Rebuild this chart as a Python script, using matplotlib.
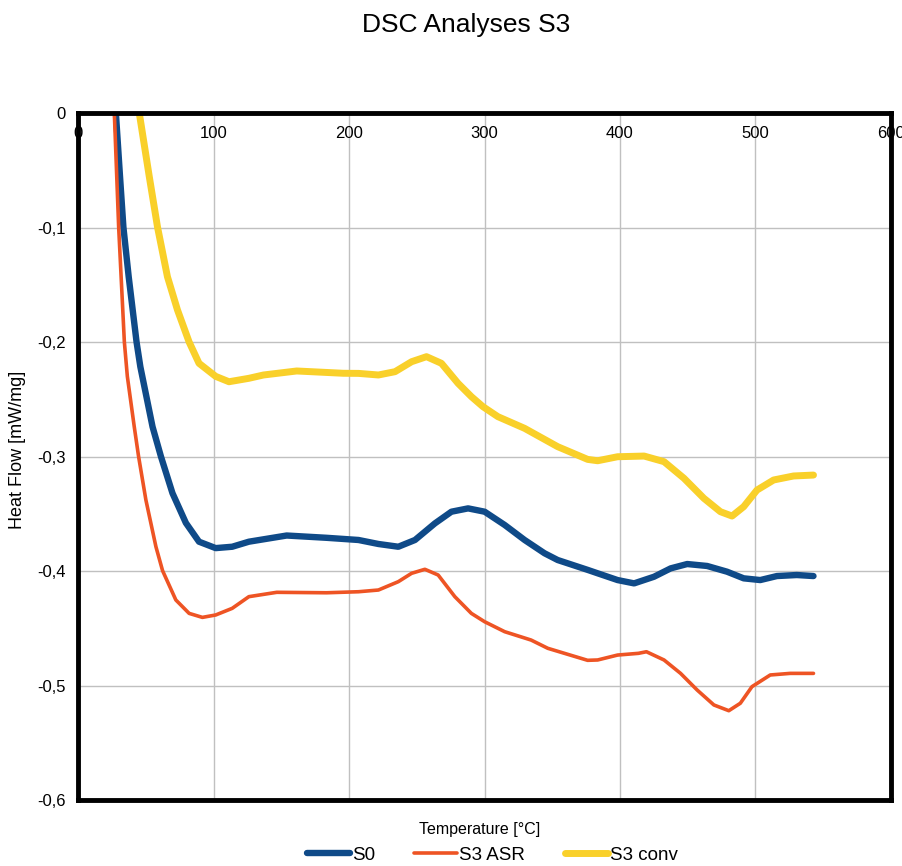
import numpy as np
import matplotlib.pyplot as plt
from matplotlib.ticker import FuncFormatter

plt.rcParams['font.family'] = ['Liberation Sans', 'DejaVu Sans']

# S0
s0_t = [28.1, 31.0, 33.5, 37.4, 43.2, 46.0, 55.0, 61.2, 69.7, 79.6, 89.3, 101.6, 113.8,
        126.1, 154.0, 183.5, 207.0, 221.7, 236.4, 248.7, 263.4, 275.6, 287.9, 300.1,
        314.9, 329.6, 344.3, 354.0, 376.1, 383.5, 398.2, 410.4, 425.1, 437.4, 449.6,
        464.3, 479.0, 491.3, 503.5, 515.8, 530.5, 542.8]
s0_hf = [-0.003, -0.0556, -0.0998, -0.143, -0.200, -0.2216, -0.274, -0.300, -0.332,
         -0.358, -0.3744, -0.380, -0.3788, -0.3744, -0.369, -0.371, -0.3729, -0.3764,
         -0.3788, -0.3729, -0.3584, -0.3482, -0.3453, -0.3482, -0.3598, -0.3729, -0.3845,
         -0.3904, -0.399, -0.402, -0.4079, -0.4108, -0.405, -0.3977, -0.3939, -0.3956,
         -0.4006, -0.4064, -0.4079, -0.4044, -0.4035, -0.4044]

# S3 ASR
asr_t = [26.8, 30.0, 34.2, 36.4, 41.5, 44.7, 50.1, 57.5, 62.4, 72.2, 82.0, 91.8, 101.6,
         113.8, 126.1, 146.7, 183.5, 207.0, 221.7, 236.4, 246.2, 256.0, 265.8, 278.1,
         290.3, 300.1, 314.9, 334.4, 346.7, 376.1, 383.5, 398.2, 413.6, 419.5, 432.5,
         444.7, 457.0, 469.3, 480.3, 488.8, 497.4, 510.9, 525.6, 542.8]
asr_hf = [0.0, -0.0998, -0.200, -0.230, -0.274, -0.300, -0.338, -0.3788, -0.3997,
          -0.4253, -0.437, -0.4405, -0.4384, -0.4326, -0.4224, -0.4186, -0.419, -0.4181,
          -0.4166, -0.4093, -0.402, -0.3985, -0.4035, -0.4224, -0.437, -0.4443, -0.453,
          -0.4603, -0.4675, -0.478, -0.4777, -0.4734, -0.4719, -0.4705, -0.4777, -0.4894,
          -0.504, -0.517, -0.522, -0.5155, -0.501, -0.4908, -0.4894, -0.4894]

# S3 conv
conv_t = [45.2, 52.6, 58.7, 66.0, 73.4, 82.0, 89.3, 101.6, 111.4, 126.1, 136.9, 161.4,
          195.7, 207.0, 221.7, 234.0, 246.2, 257.2, 268.2, 280.5, 290.3, 298.9, 309.9,
          329.6, 354.0, 376.1, 383.5, 398.2, 417.8, 432.5, 447.2, 461.9, 474.1, 482.7,
          491.3, 501.1, 513.4, 528.1, 542.8]
conv_hf = [0.0, -0.0556, -0.0998, -0.143, -0.172, -0.200, -0.2186, -0.230, -0.2347,
           -0.2317, -0.2288, -0.2253, -0.2273, -0.2274, -0.2288, -0.2259, -0.2172,
           -0.2128, -0.2186, -0.2361, -0.2477, -0.2565, -0.2652, -0.2754, -0.2914,
           -0.3025, -0.3037, -0.3002, -0.2996, -0.3045, -0.319, -0.3365, -0.3482, -0.352,
           -0.3438, -0.3293, -0.3205, -0.317, -0.3162]

fig = plt.figure(figsize=(9.03, 8.66), dpi=100)
ax = fig.add_axes([0.0864, 0.0762, 0.9003, 0.7933])

style = dict(solid_capstyle='round', solid_joinstyle='round')
ax.plot(s0_t, s0_hf, color='#0F4A88', linewidth=4.6, label='S0', **style)
ax.plot(asr_t, asr_hf, color='#EE5424', linewidth=2.6, label='S3 ASR', **style)
ax.plot(conv_t, conv_hf, color='#F9D02A', linewidth=5.0, label='S3 conv', **style)

ax.set_xlim(0, 600)
ax.set_ylim(-0.6, 0)
ax.set_xticks(np.arange(0, 601, 100))
ax.set_yticks(np.arange(-0.6, 0.01, 0.1))

def comma_fmt(v, p):
    v = round(v, 2)
    if v == 0:
        return '0'
    return ('%g' % v).replace('.', ',')

ax.yaxis.set_major_formatter(FuncFormatter(comma_fmt))
ax.xaxis.set_major_formatter(FuncFormatter(lambda v, p: '%d' % v))

ax.xaxis.set_ticks_position('top')
ax.tick_params(axis='x', length=0, pad=-15, labelsize=12, labeltop=True, labelbottom=False)
ax.tick_params(axis='y', length=0, pad=9, labelsize=12)
for lab in ax.get_xticklabels():
    lab.set_verticalalignment('center')

ax.grid(True, color='#C0C0C0', linewidth=1)
ax.set_axisbelow(True)
for sp in ax.spines.values():
    sp.set_linewidth(3.5)
    sp.set_color('black')

ax.set_ylabel('Heat Flow [mW/mg]', fontsize=13)
ax.yaxis.set_label_coords(-0.064, 0.509)
fig.text(0.5316, 0.0416, 'Temperature [°C]', ha='center', va='center', fontsize=11.5)
fig.text(0.516, 0.971, 'DSC Analyses S3', ha='center', va='center', fontsize=19)

fig.legend(loc='center', bbox_to_anchor=(0.545, 0.0127), ncol=3, frameon=False,
           fontsize=13.5, handlelength=2.3, handletextpad=0.1, columnspacing=2.1)

fig.savefig('out.png', dpi=100)
